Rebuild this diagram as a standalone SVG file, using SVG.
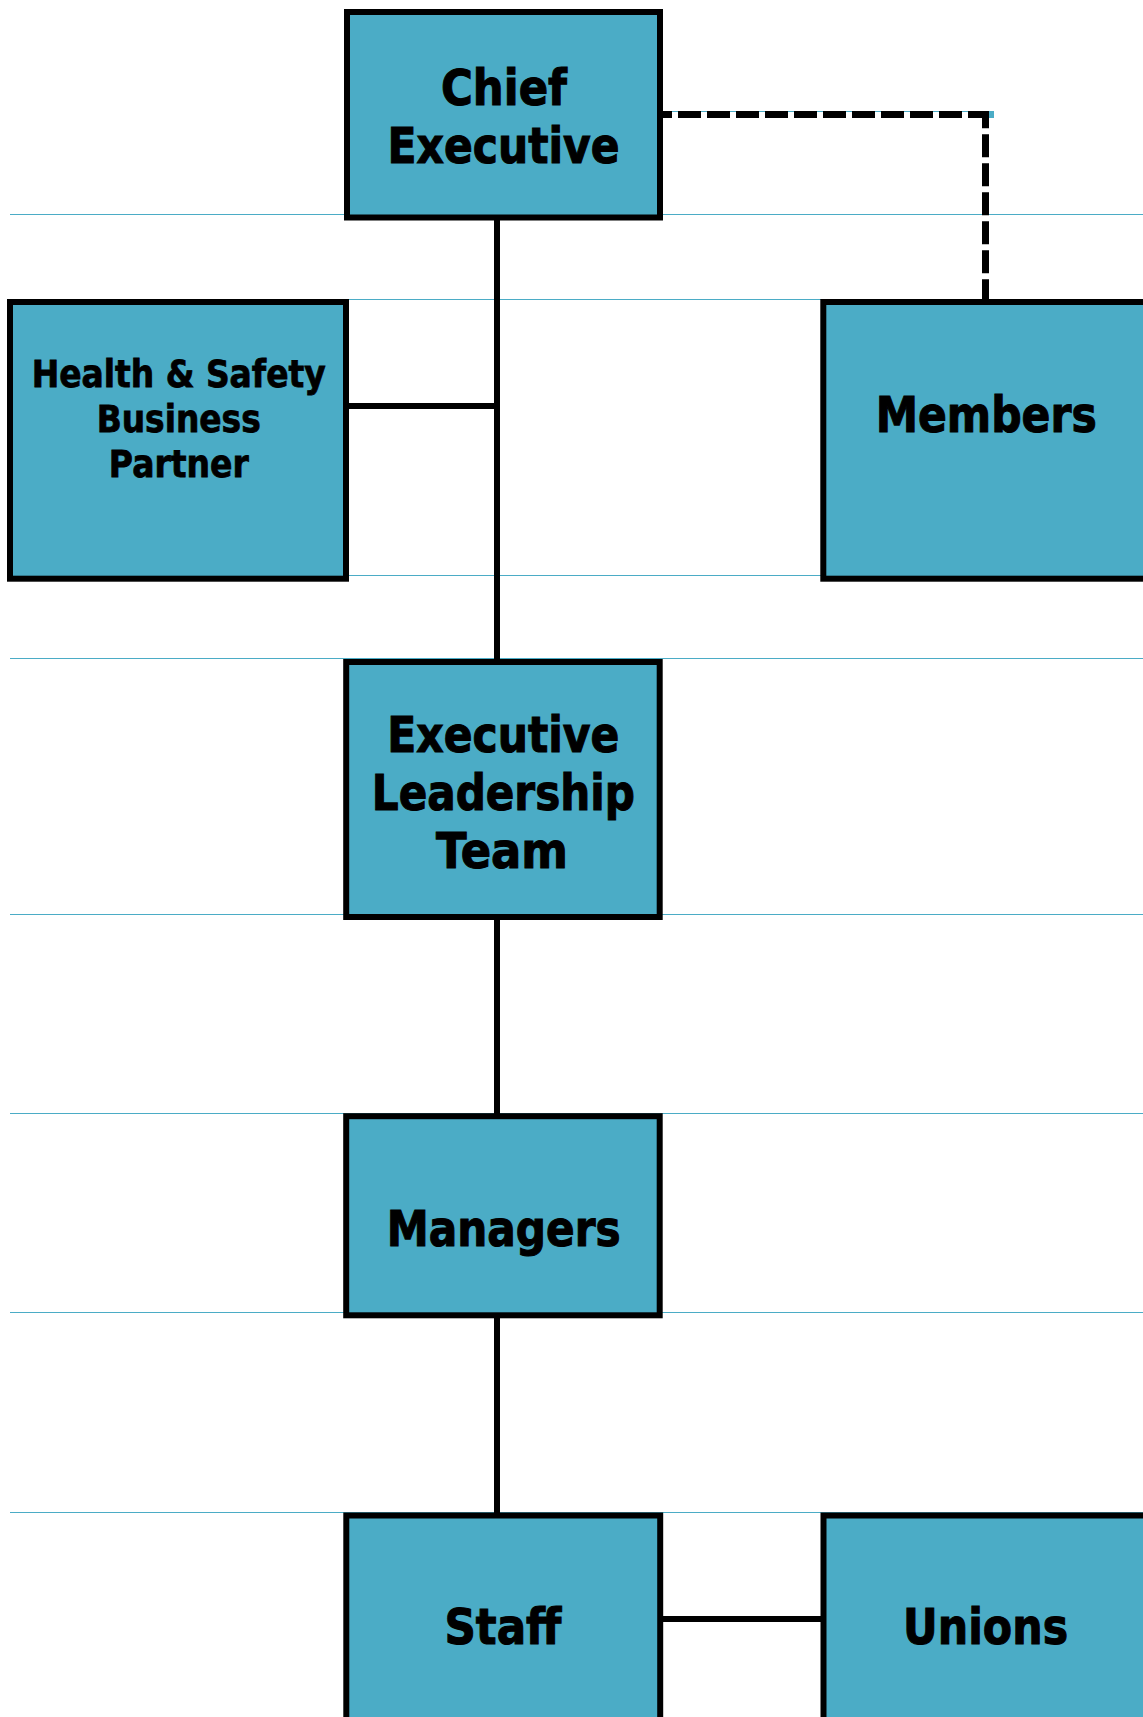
<svg xmlns="http://www.w3.org/2000/svg" width="1143" height="1717" viewBox="0 0 1143 1717">
<style>
  .bg { fill: #ffffff; }
  .guide { stroke: #4bacc6; stroke-width: 1; fill: none; }
  .box { fill: #4bacc6; stroke: #000000; stroke-width: 6; }
  .conn { stroke: #000000; stroke-width: 6; fill: none; }
  .dash { stroke: #000000; stroke-width: 7; fill: none; stroke-dasharray: 23 6; }
  .lbl { font-family: "DejaVu Sans", "Liberation Sans", sans-serif; font-weight: bold; fill: #000000; stroke: #000000; text-anchor: middle; }
  .big { font-size: 50px; stroke-width: 1.1; }
  .small { font-size: 36.5px; stroke-width: 0.8; }
</style>
<rect class="bg" x="0" y="0" width="1143" height="1717"/>
<g id="guides">
  <line class="guide" x1="10" y1="214.5" x2="1143" y2="214.5"/>
  <line class="guide" x1="10" y1="299.5" x2="1143" y2="299.5"/>
  <line class="guide" x1="10" y1="575.5" x2="1143" y2="575.5"/>
  <line class="guide" x1="10" y1="658.5" x2="1143" y2="658.5"/>
  <line class="guide" x1="10" y1="914.5" x2="1143" y2="914.5"/>
  <line class="guide" x1="10" y1="1113.5" x2="1143" y2="1113.5"/>
  <line class="guide" x1="10" y1="1312.5" x2="1143" y2="1312.5"/>
  <line class="guide" x1="10" y1="1512.5" x2="1143" y2="1512.5"/>
</g>
<g id="connectors">
  <line class="guide" x1="662" y1="111.5" x2="994" y2="111.5"/>
  <rect x="988.5" y="111" width="5.5" height="7" fill="#4bacc6"/>
  <line class="conn" x1="497" y1="217" x2="497" y2="662"/>
  <line class="conn" x1="346" y1="406" x2="497" y2="406"/>
  <line class="conn" x1="497" y1="917" x2="497" y2="1116"/>
  <line class="conn" x1="497" y1="1315" x2="497" y2="1515"/>
  <line class="conn" x1="660" y1="1619" x2="823.5" y2="1619"/>
  <line class="dash" x1="660" y1="114.5" x2="988.5" y2="114.5" stroke-dashoffset="11"/>
  <line class="dash" x1="985.5" y1="111" x2="985.5" y2="302" stroke-dashoffset="5.7"/>
</g>
<g id="chief-executive">
  <rect class="box" x="347" y="12" width="313" height="205.5"/>
  <text class="lbl big" x="504" y="105" textLength="126" lengthAdjust="spacingAndGlyphs">Chief</text>
  <text class="lbl big" x="503.5" y="163.3" textLength="232" lengthAdjust="spacingAndGlyphs">Executive</text>
</g>
<g id="health-safety">
  <rect class="box" x="10" y="302" width="336" height="276.7"/>
  <text class="lbl small" x="178.7" y="387.3" textLength="294" lengthAdjust="spacingAndGlyphs">Health &amp; Safety</text>
  <text class="lbl small" x="178.7" y="432.3" textLength="164" lengthAdjust="spacingAndGlyphs">Business</text>
  <text class="lbl small" x="178.8" y="477.3" textLength="140" lengthAdjust="spacingAndGlyphs">Partner</text>
</g>
<g id="members">
  <rect class="box" x="823.3" y="302" width="326" height="276.7"/>
  <text class="lbl big" x="986.2" y="431.7" textLength="221" lengthAdjust="spacingAndGlyphs">Members</text>
</g>
<g id="executive-leadership-team">
  <rect class="box" x="346.2" y="662" width="313.5" height="255"/>
  <text class="lbl big" x="503.3" y="751.6" textLength="232" lengthAdjust="spacingAndGlyphs">Executive</text>
  <text class="lbl big" x="503.3" y="809.5" textLength="263" lengthAdjust="spacingAndGlyphs">Leadership</text>
  <text class="lbl big" x="502" y="868.2" textLength="132" lengthAdjust="spacingAndGlyphs">Team</text>
</g>
<g id="managers">
  <rect class="box" x="346.2" y="1116.2" width="313.5" height="199.1"/>
  <text class="lbl big" x="503.7" y="1245.7" textLength="234" lengthAdjust="spacingAndGlyphs">Managers</text>
</g>
<g id="staff">
  <rect class="box" x="346.3" y="1515.5" width="313.9" height="230"/>
  <text class="lbl big" x="502.9" y="1644" textLength="117" lengthAdjust="spacingAndGlyphs">Staff</text>
</g>
<g id="unions">
  <rect class="box" x="823.5" y="1515.5" width="326" height="230"/>
  <text class="lbl big" x="985.6" y="1644" textLength="165" lengthAdjust="spacingAndGlyphs">Unions</text>
</g>
</svg>
